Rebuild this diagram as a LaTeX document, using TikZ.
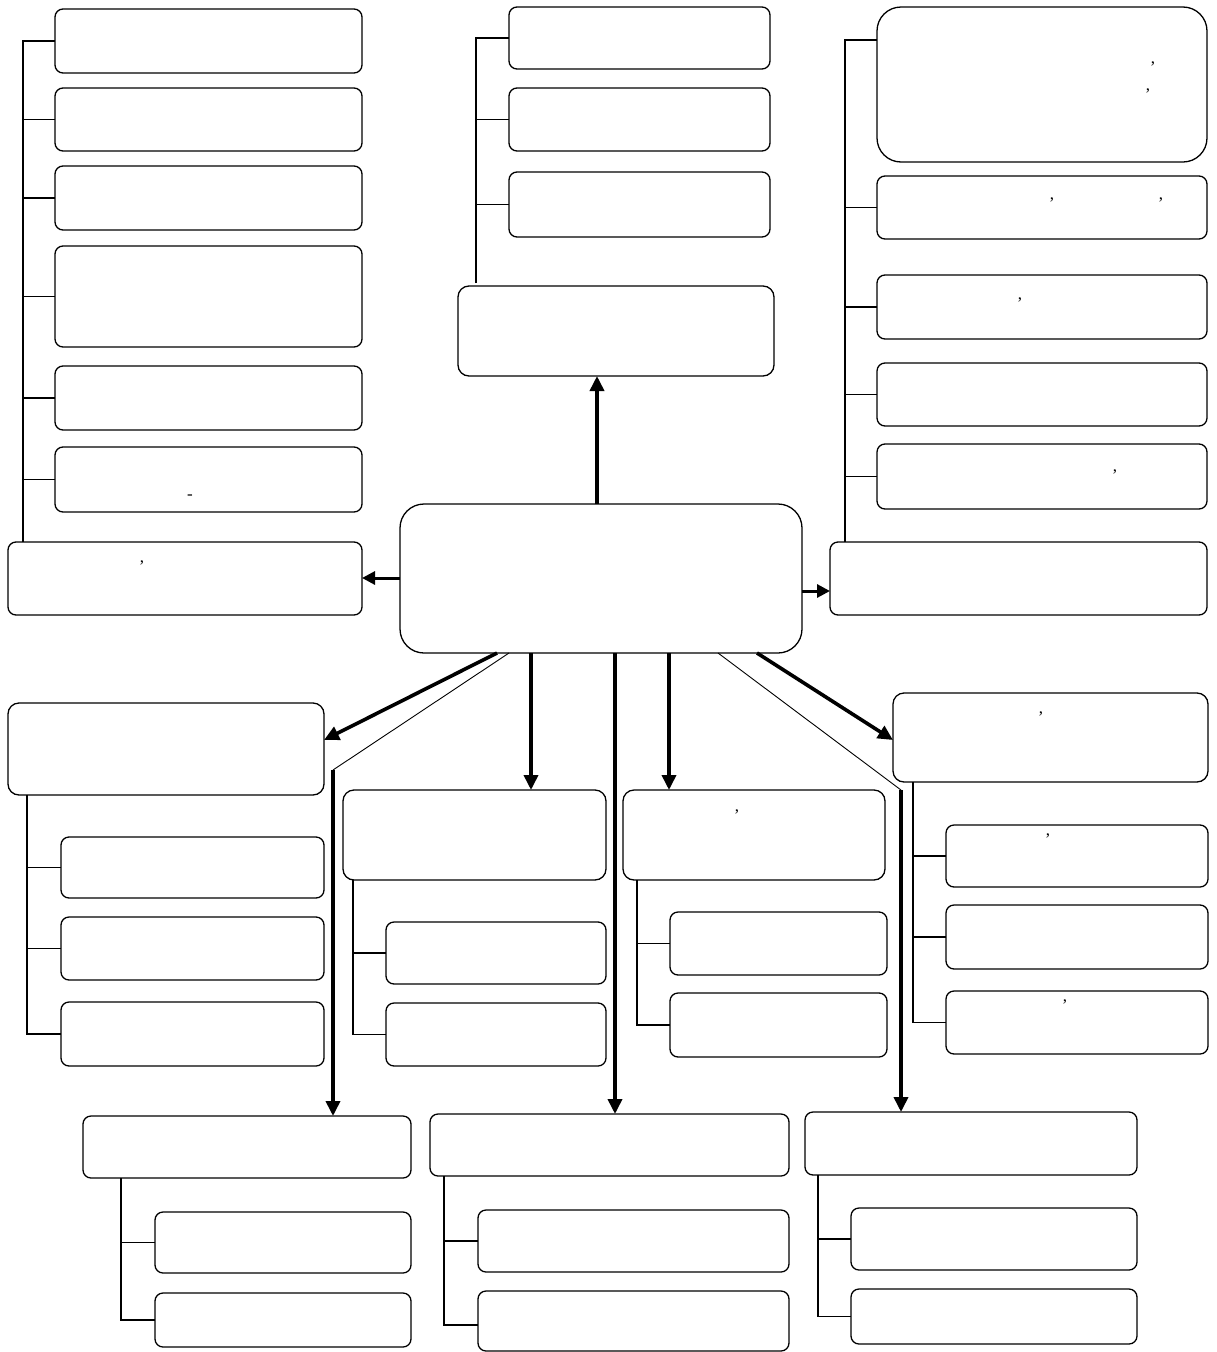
\documentclass[tikz,border=0pt]{standalone}
\usepackage{fontspec}
\setmainfont{Liberation Serif}
\usetikzlibrary{arrows.meta,fit}
\begin{document}
\begin{tikzpicture}[x=1pt,y=-1pt,
 box/.style={draw,line width=1.3pt,rounded corners=8pt,inner sep=0pt,outer sep=0pt},
 bigbox/.style={box,rounded corners=24pt},
 link/.style={line width=1.1pt},
 thinlink/.style={line width=0.9pt},
 arr/.style={line width=3.6pt,-{Triangle[length=15pt,width=14pt]}},
 sarr/.style={line width=3pt,-{Triangle[length=13pt,width=13pt]}},
 txt/.style={inner sep=0pt,font=\fontsize{17}{19}\selectfont}]
\useasboundingbox (0,0) rectangle (1216,1352);

% ---------- left column ----------
\node[box,fit={(55,9)(362,73)}] (L1) {};
\node[box,fit={(55,88)(362,151)}] (L2) {};
\node[box,fit={(55,166)(362,230)}] (L3) {};
\node[box,fit={(55,246)(362,347)}] (L4) {};
\node[box,fit={(55,366)(362,430)}] (L5) {};
\node[box,fit={(55,447)(362,512)}] (L6) {};
\node[box,fit={(8,542)(362,615)}] (L7) {};
\node[txt] (L6t) at (190,497) {-};
\node[txt] (L7t) at (142,563) {,};
\coordinate (ls) at (23,542);
\draw[link] (L7.north -| ls) |- (L1.west);
\foreach \n in {L2,L3,L4,L5,L6} \draw[link] (\n.west) -- (\n.west -| ls);

% ---------- top centre column ----------
\node[box,fit={(509,7)(770,69)}] (T1) {};
\node[box,fit={(509,88)(770,151)}] (T2) {};
\node[box,fit={(509,172)(770,237)}] (T3) {};
\node[box,rounded corners=11pt,fit={(458,286)(774,376)}] (T4) {};
\coordinate (ts) at (476,283);
\draw[link] (ts) |- (T1.west);
\foreach \n in {T2,T3} \draw[link] (\n.west) -- (\n.west -| ts);

% ---------- right column ----------
\node[bigbox,fit={(877,7)(1207,162)}] (R1) {};
\node[box,fit={(877,176)(1207,239)}] (R2) {};
\node[box,fit={(877,275)(1207,339)}] (R3) {};
\node[box,fit={(877,363)(1207,426)}] (R4) {};
\node[box,fit={(877,444)(1207,509)}] (R5) {};
\node[box,fit={(830,542)(1207,615)}] (R6) {};
\node[txt] (R1t1) at (1153,64) {,};
\node[txt] (R1t2) at (1148,91) {,};
\node[txt] (R2t1) at (1052,200) {,};
\node[txt] (R2t2) at (1161,200) {,};
\node[txt] (R3t) at (1020,300) {,};
\node[txt] (R5t) at (1115,472) {,};
\coordinate (rs) at (845,542);
\coordinate (r1b) at (877,40);
\draw[link] (rs) |- (r1b);
\foreach \n in {R2,R3,R4,R5} \draw[link] (\n.west) -- (\n.west -| rs);

% ---------- centre ----------
\node[bigbox,fit={(400,504)(802,653)}] (C) {};
\draw[arr] (C.north -| 597,0) -- (T4.south -| 597,0);
\draw[sarr] (C.west |- 0,578) -- (L7.east |- 0,578);
\draw[sarr] (C.east |- 0,591) -- (R6.west |- 0,591);

% ---------- lower left group ----------
\node[box,rounded corners=11pt,fit={(8,703)(324,795)}] (BL) {};
\node[box,fit={(61,837)(324,898)}] (BL1) {};
\node[box,fit={(61,917)(324,980)}] (BL2) {};
\node[box,fit={(61,1002)(324,1066)}] (BL3) {};
\draw[link] (BL.south -| 27,0) |- (BL3.west);
\foreach \n in {BL1,BL2} \draw[link] (\n.west) -- (\n.west -| 27,0);
\draw[arr] (C.south -| 497,0) -- (BL.east |- 0,740);

% ---------- lower middle groups ----------
\node[box,rounded corners=11pt,fit={(343,790)(606,880)}] (M1) {};
\node[box,fit={(386,922)(606,984)}] (M1a) {};
\node[box,fit={(386,1003)(606,1066)}] (M1b) {};
\draw[link] (M1.south -| 353,0) |- (M1b.west);
\draw[link] (M1a.west) -- (M1a.west -| 353,0);
\draw[arr] (C.south -| 531,0) -- (M1.north -| 531,0);

\node[box,rounded corners=11pt,fit={(623,790)(885,880)}] (M2) {};
\node[box,fit={(670,912)(887,975)}] (M2a) {};
\node[box,fit={(670,993)(887,1057)}] (M2b) {};
\node[txt] (M2t) at (737,812) {,};
\draw[link] (M2.south -| 637,0) |- (M2b.west);
\draw[link] (M2a.west) -- (M2a.west -| 637,0);
\draw[arr] (C.south -| 669,0) -- (M2.north -| 669,0);

% ---------- lower right group ----------
\node[box,rounded corners=11pt,fit={(893,693)(1208,782)}] (BR) {};
\node[box,fit={(946,825)(1208,887)}] (BR1) {};
\node[box,fit={(946,905)(1208,969)}] (BR2) {};
\node[box,fit={(946,991)(1208,1054)}] (BR3) {};
\node[txt] (BRt) at (1041,714) {,};
\node[txt] (BR1t) at (1048,836) {,};
\node[txt] (BR3t) at (1065,1002) {,};
\draw[link] (BR.south -| 913,0) |- (BR3.west);
\foreach \n in {BR1,BR2} \draw[link] (\n.west) -- (\n.west -| 913,0);
\draw[arr] (C.south -| 757,0) -- (BR.west |- 0,740);

% ---------- bottom row ----------
\node[box,fit={(83,1116)(411,1178)}] (B1) {};
\node[box,fit={(155,1212)(411,1273)}] (B1a) {};
\node[box,fit={(155,1293)(411,1347)}] (B1b) {};
\draw[link] (B1.south -| 121,0) |- (B1b.west);
\draw[link] (B1a.west) -- (B1a.west -| 121,0);

\node[box,fit={(430,1114)(789,1176)}] (B2) {};
\node[box,fit={(478,1210)(789,1272)}] (B2a) {};
\node[box,fit={(478,1291)(789,1351)}] (B2b) {};
\draw[link] (B2.south -| 444,0) |- (B2b.west |- 0,1325);
\draw[link] (B2a.west) -- (B2a.west -| 444,0);

\node[box,fit={(805,1112)(1137,1175)}] (B3) {};
\node[box,fit={(851,1208)(1137,1270)}] (B3a) {};
\node[box,fit={(851,1289)(1137,1344)}] (B3b) {};
\draw[link] (B3.south -| 818,0) |- (B3b.west);
\draw[link] (B3a.west) -- (B3a.west -| 818,0);

% ---------- long connectors to bottom row ----------
\coordinate (k1) at (333,770);
\coordinate (k3) at (901,790);
\draw[thinlink] (C.south -| 509,0) -- (k1);
\draw[arr] (k1) -- (B1.north -| k1);
\draw[arr] (C.south -| 615,0) -- (B2.north -| 615,0);
\draw[thinlink] (C.south -| 718,0) -- (k3);
\draw[arr] (k3) -- (B3.north -| k3);
\end{tikzpicture}
\end{document}
